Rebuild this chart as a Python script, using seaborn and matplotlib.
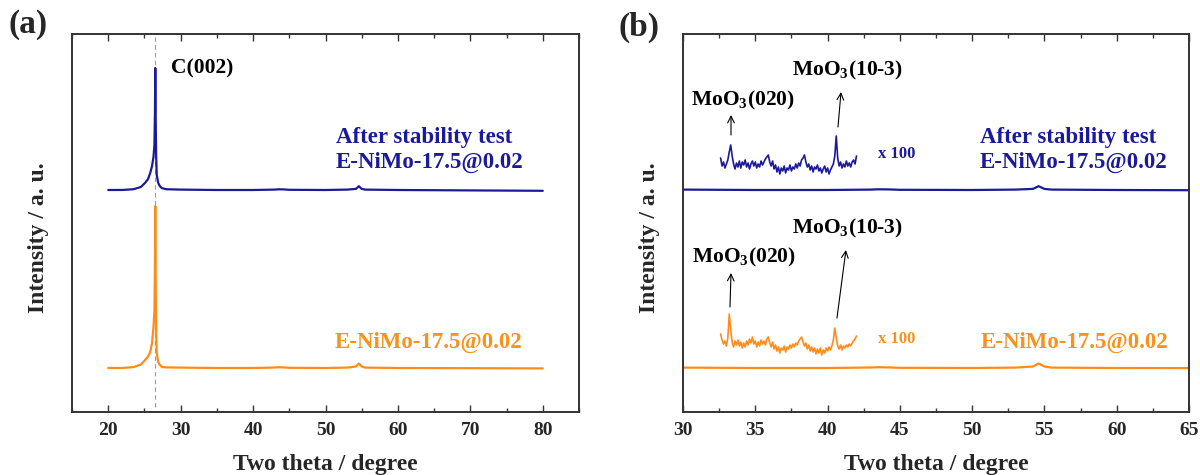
import numpy as np
import pandas as pd
import matplotlib
matplotlib.use("Agg")
import matplotlib.pyplot as plt
from matplotlib.ticker import MultipleLocator
import seaborn as sns

# ---- XRD patterns (intensity in a.u., baseline at zero) ----
two_theta = [20, 22, 23.5, 24.5, 25.1, 25.5, 25.8, 26.05, 26.25, 26.38, 26.45,
             26.5, 26.56, 26.62, 26.7, 26.9, 27.1, 27.4, 28, 30, 35, 40, 43,
             43.5, 44.2, 45, 50, 53, 54.2, 54.6, 55.0, 55.5, 60, 70, 80]
int_after = [0, 0.05, 0.8, 3.0, 7.2, 11, 17, 24, 33, 45, 76,
             122, 68, 34, 15, 7.2, 4.2, 1.9, 0.8, 0.4, 0, 0, 0.4,
             0.7, 0.6, 0.2, 0, 0.4, 1.1, 3.8, 1.1, 0.4, 0, -0.4, -0.8]
int_fresh = [0, 0.05, 0.9, 3.4, 8.0, 11.5, 16, 25, 41, 57, 98,
             162, 83, 38, 15, 6.0, 3.4, 1.1, 0.6, 0.4, 0, 0, 0.5,
             0.8, 0.6, 0.2, 0, 0.4, 1.5, 4.5, 1.5, 0.4, 0, -0.2, -0.4]

# ---- magnified (x100) scans of the 32.6-42.0 degree range ----
zoom_theta = np.linspace(32.6, 42.0, 95)
zoom_after = [12, 4, 8, 2, 6, 10, 18, 25, 14, 6,
              1, 7, 3, 9, 2, 8, 5, 10, 3, 7,
              1, 6, 9, 4, 8, 2, 6, 3, 9, 5,
              8, 11, 13, 15, 8, 4, 9, 1, 5, -2,
              3, -4, 2, -1, 4, -3, 2, 0, 5, -1,
              3, 1, 6, 2, 7, 4, 10, 12, 15, 8,
              3, 6, 0, 4, -2, 3, 1, 5, -1, 2,
              -3, 1, 4, -2, 2, -4, 0, 3, 6, 14,
              34, 12, 4, 8, 2, 6, 3, 9, 4, 7,
              3, 8, 10, 6, 14]
zoom_fresh = [16, 10, 6, 9, 4, 12, 36, 20, 8, 3,
              9, 5, 10, 4, 8, 2, 7, 3, 9, 5,
              11, 7, 13, 6, 9, 3, 8, 4, 10, 6,
              9, 5, 11, 13, 7, 3, 8, 1, 5, -1,
              3, -3, 2, 0, 4, -2, 3, 1, 5, 2,
              6, 3, 7, 5, 9, 11, 13, 8, 4, 7,
              1, 5, -1, 3, -2, 2, -4, 1, -3, 2,
              -5, 0, -3, 2, -1, 3, 0, 4, 10, 22,
              12, 4, 1, 5, 0, 4, 2, 5, 3, 6,
              4, 7, 9, 11, 14]

# vertical stacking of the traces
offset_after, offset_fresh = 222, 44
zoom_offset_after, zoom_offset_fresh = 242, 62

label_after = "After stability test\nE-NiMo-17.5@0.02"
label_fresh = "E-NiMo-17.5@0.02"

BLUE = "#1a1a9a"
ORANGE = "#ff8c1a"
ORANGE_TXT = "#f7921e"

sns.set_theme(style="ticks")
plt.rcParams["font.family"] = ["Liberation Serif", "DejaVu Serif"]
plt.rcParams["mathtext.fontset"] = "custom"
plt.rcParams["mathtext.rm"] = "Liberation Serif:bold"
plt.rcParams["mathtext.bf"] = "Liberation Serif:bold"
plt.rcParams["font.weight"] = "bold"

main = pd.DataFrame({"theta": two_theta,
                     "after": np.array(int_after) + offset_after,
                     "fresh": np.array(int_fresh) + offset_fresh})
zoom = pd.DataFrame({"theta": zoom_theta,
                     "after": np.array(zoom_after) + zoom_offset_after,
                     "fresh": np.array(zoom_fresh) + zoom_offset_fresh})

fig = plt.figure(figsize=(12, 4.75), dpi=100)
ax_a = fig.add_axes([72 / 1200, 63 / 475, 507 / 1200, 378 / 475])
ax_b = fig.add_axes([683 / 1200, 63 / 475, 506 / 1200, 378 / 475])


def style_axis(ax, xlim, major, minor):
    ax.set_xlim(*xlim)
    ax.set_ylim(0, 378)
    ax.xaxis.set_major_locator(MultipleLocator(major))
    ax.xaxis.set_minor_locator(MultipleLocator(minor))
    ax.set_yticks([])
    ax.tick_params(axis="x", which="both", direction="in", top=True,
                   bottom=True, color="#333333", width=1.0,
                   labelsize=14, pad=7)
    ax.tick_params(axis="x", which="major", length=5)
    ax.tick_params(axis="x", which="minor", length=3)
    for lab in ax.get_xticklabels():
        lab.set_fontweight("bold")
    for sp in ax.spines.values():
        sp.set_visible(True)
        sp.set_color("#333333")
        sp.set_linewidth(1.4)
    ax.set_xlabel("Two theta / degree", fontsize=17, fontweight="bold",
                  labelpad=11)
    ax.set_ylabel("Intensity / a. u.", fontsize=17, fontweight="bold")
    ax.yaxis.set_label_coords(-0.045, 0.46)


# ---------------- panel (a) ----------------
ax_a.axvline(26.5, ymin=0.012, ymax=1, color="#9a9a9a", lw=0.8,
             ls=(0, (4, 3)), zorder=0)
sns.lineplot(data=main, x="theta", y="after", ax=ax_a, color=BLUE, lw=1.6,
             estimator=None, sort=False)
sns.lineplot(data=main, x="theta", y="fresh", ax=ax_a, color=ORANGE, lw=1.6,
             estimator=None, sort=False)
style_axis(ax_a, (15, 85), 10, 5)
ax_a.text(28.7, 344, "C(002)", fontsize=15.5, fontweight="bold",
          ha="left", va="center", color="black")
ax_a.text(51.4, 262, label_after, fontsize=16.5, fontweight="bold",
          color=BLUE, ha="left", va="center", linespacing=1.3)
ax_a.text(51.3, 70, label_fresh, fontsize=16.5, fontweight="bold",
          color=ORANGE_TXT, ha="left", va="center")

# ---------------- panel (b) ----------------
sns.lineplot(data=main, x="theta", y="after", ax=ax_b, color=BLUE, lw=1.6,
             estimator=None, sort=False)
sns.lineplot(data=main, x="theta", y="fresh", ax=ax_b, color=ORANGE, lw=1.6,
             estimator=None, sort=False)
sns.lineplot(data=zoom, x="theta", y="after", ax=ax_b, color=BLUE, lw=1.2,
             estimator=None, sort=False)
sns.lineplot(data=zoom, x="theta", y="fresh", ax=ax_b, color=ORANGE, lw=1.2,
             estimator=None, sort=False)
style_axis(ax_b, (30, 65), 5, 2.5)

arrow = dict(arrowstyle="->", color="black", lw=0.8, shrinkA=0, shrinkB=0)
peak_labels = [
    # text, text xy, tail xy, tip xy
    (r"MoO$_{\mathbf{3}}$(020)", (34.15, 312), (33.32, 277), (33.32, 297)),
    (r"MoO$_{\mathbf{3}}$(10-3)", (41.38, 342), (40.72, 285), (40.93, 320)),
    (r"MoO$_{\mathbf{3}}$(020)", (34.2, 155), (33.25, 105), (33.32, 139)),
    (r"MoO$_{\mathbf{3}}$(10-3)", (41.35, 184), (40.65, 94), (41.27, 162)),
]
for txt, txy, tail, tip in peak_labels:
    ax_b.text(*txy, txt, fontsize=15.5, fontweight="bold", ha="center",
              va="center", color="black")
    ax_b.annotate("", xy=tip, xytext=tail, arrowprops=arrow)

ax_b.text(43.5, 258, "x 100", fontsize=12, fontweight="bold", color=BLUE,
          ha="left", va="center")
ax_b.text(43.5, 73, "x 100", fontsize=12, fontweight="bold",
          color=ORANGE_TXT, ha="left", va="center")
ax_b.text(50.55, 262, label_after, fontsize=16.5, fontweight="bold",
          color=BLUE, ha="left", va="center", linespacing=1.3)
ax_b.text(50.6, 70, label_fresh, fontsize=16.5, fontweight="bold",
          color=ORANGE_TXT, ha="left", va="center")

fig.text(8 / 1200, 1 - 25 / 475, "(a)", fontsize=24, fontweight="bold",
         ha="left", va="center")
fig.text(619 / 1200, 1 - 27 / 475, "(b)", fontsize=24, fontweight="bold",
         ha="left", va="center")

fig.savefig("out.png", dpi=100)
